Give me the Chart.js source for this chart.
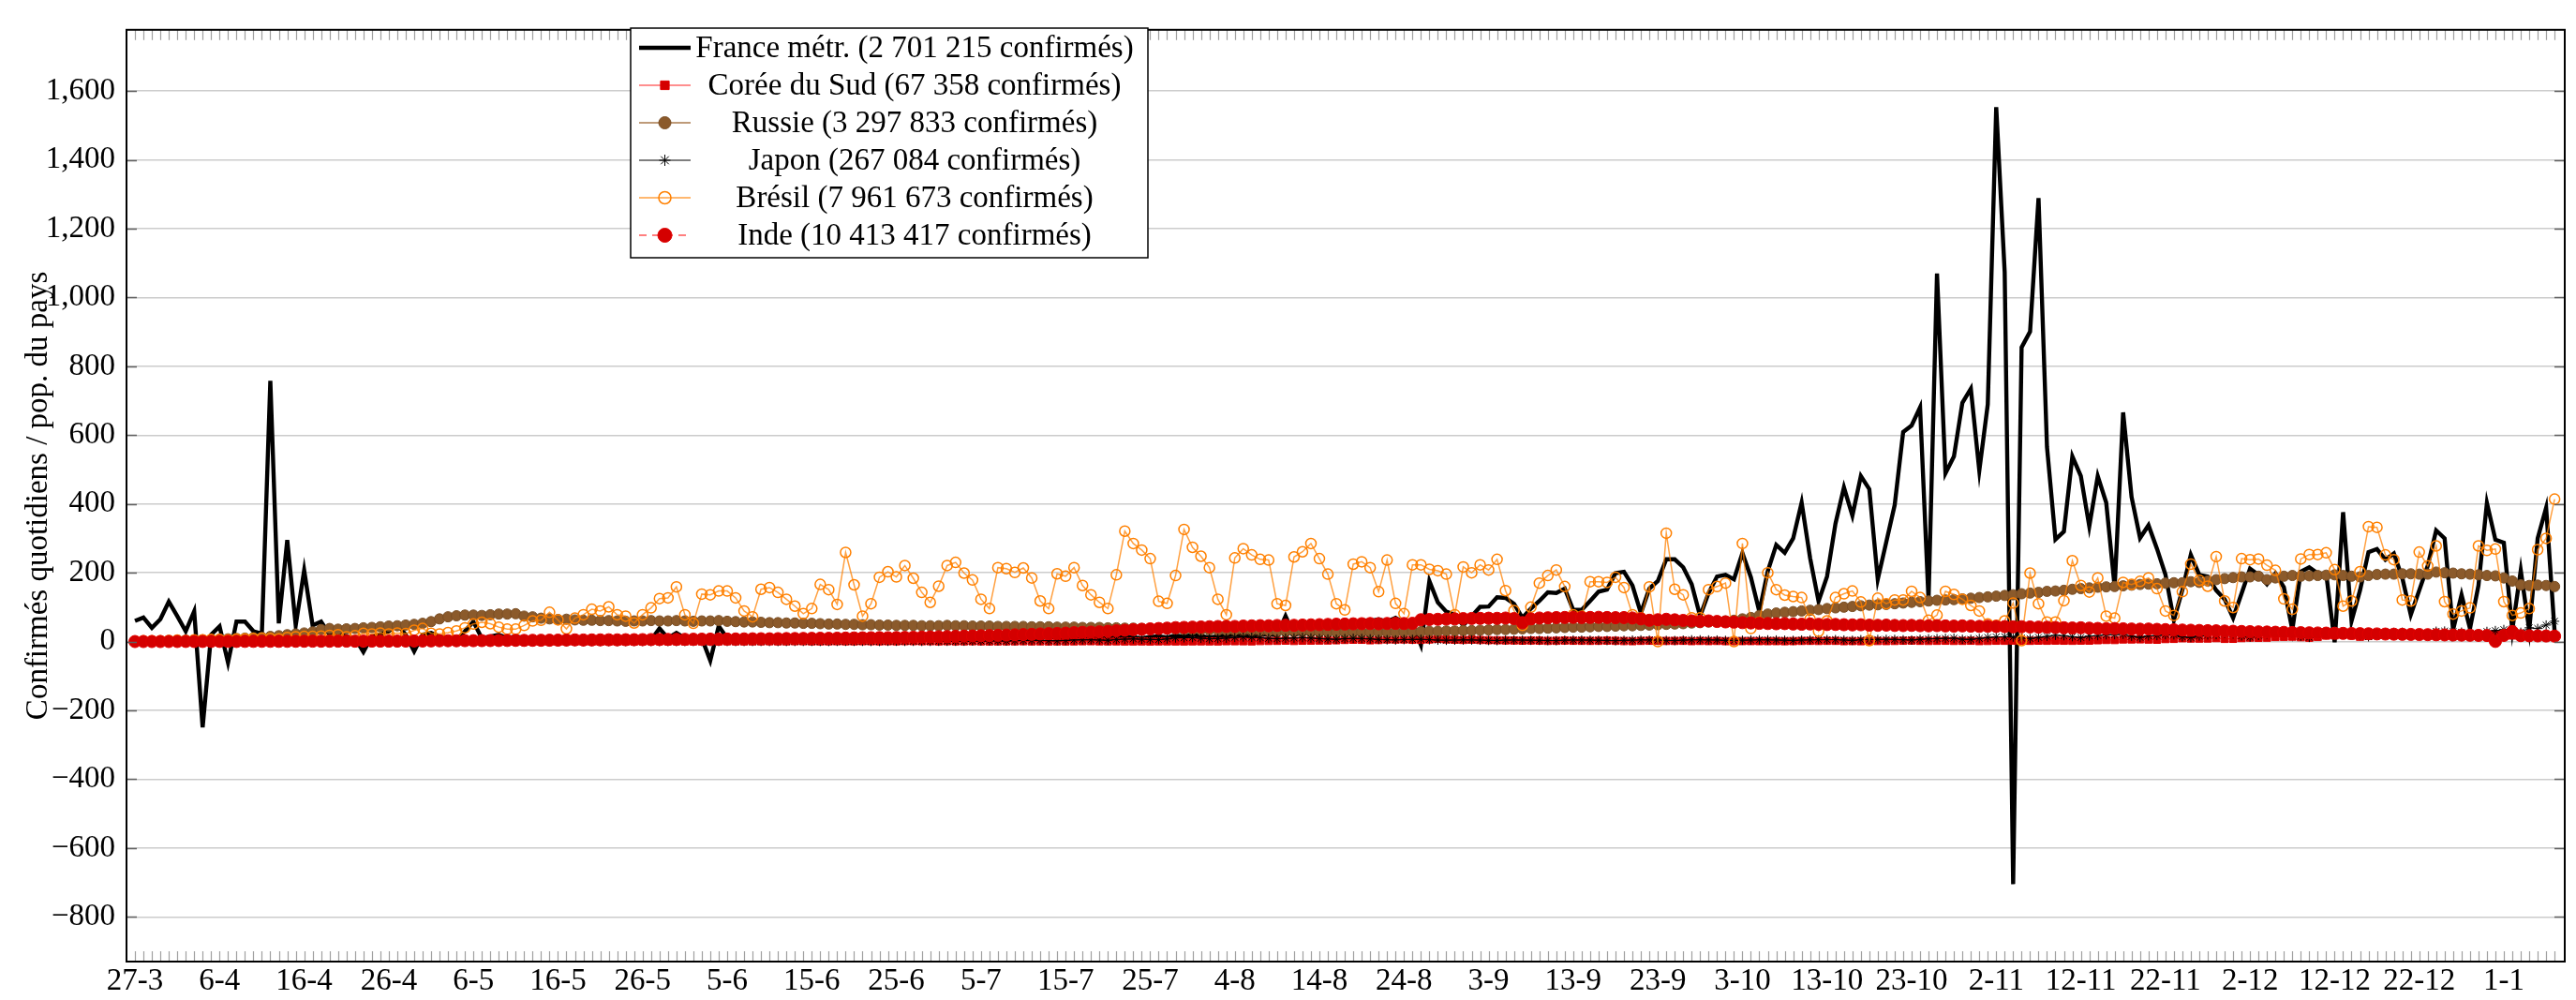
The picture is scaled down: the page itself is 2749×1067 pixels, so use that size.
<!DOCTYPE html>
<html>
<head>
<meta charset="utf-8">
<title>Confirmés quotidiens</title>
<script src="https://cdn.jsdelivr.net/npm/chart.js@4.4.1/dist/chart.umd.min.js"></script>
<style>
  html, body { margin: 0; padding: 0; background: #fff; }
  #cadre { width: 2749px; height: 1067px; }
</style>
</head>
<body>
<div id="cadre"><canvas id="graphe" width="2749" height="1067"></canvas></div>
<script>
// dates affichées sous l'axe (un repère tous les 10 jours à partir du 27-3)
var etiquettesX = ['27-3', '6-4', '16-4', '26-4', '6-5', '16-5', '26-5', '5-6', '15-6', '25-6',
  '5-7', '15-7', '25-7', '4-8', '14-8', '24-8', '3-9', '13-9', '23-9', '3-10',
  '13-10', '23-10', '2-11', '12-11', '22-11', '2-12', '12-12', '22-12', '1-1'];

var titreAxeY = 'Confirmés quotidiens / pop. du pays';

// confirmés quotidiens par million d'habitants, un point par jour depuis le 27-3
var franceMetr = [60, 70, 40, 65, 116, 74, 30, 88, -249, 20, 44, -61, 58, 58, 30, 23, 758, 53, 295, 47, 207, 47, 58,
  20, 25, 15, 10, -30, 15, 20, 30, 50, 20, -28, 20, 25, 15, 10, 5, 30, 58, 10, 15, 20, 10, 15, 10, 12,
  10, 8, 12, 10, 8, 6, 10, 8, 5, 6, 8, 5, 6, 5, 38, 10, 25, 10, 5, 10, -55, 45, 10,
  8, 6, 10, 7, 5, 8, 6, 10, 8, 7, 9, 6, 8, 10, 7, 5, 9, 8, 10, 6, 8, 9, 7, 10, 8, 6, 9, 11, 8,
  10, 12, 9, 11, 13, 10, 8, 12, 14, 11, 10, 13, 15, 12, 9, 11, 14, 16, 12, 10, 13, 15, 12, 18, 14, 20, 16, 12, 15, 18,
  20, 17, 14, 19, 22, 18, 74, 20, 25, 28, 22, 30, 35, 40, 45,
  62, 60, 65, 58, 69, 55, 50, -10,
  176, 114, 87, 78, 47, 74, 101, 102, 129, 127, 110, 69, 96, 118, 143, 141, 154, 92, 92, 118,
  145, 151, 199, 203, 163, 83, 154, 176, 239, 239, 216, 167, 74, 141, 189, 194, 181, 257, 187, 87,
  205, 281, 258, 300, 404, 243, 117, 189, 343, 448, 366, 481, 443, 181, 289, 397, 609, 628, 681, 120,
  1070, 489, 538, 694, 735, 497, 689, 1553, 1074, -705, 855, 901, 1289, 566, 297, 320, 538, 481, 335, 481,
  404, 158, 666, 420, 301, 338, 270, 195, 62, 150, 252,
  194, 189, 149, 123, 69, 140, 212, 194, 167, 198, 158, 34, 203, 216, 198, 198, -2, 376, 60, 149,
  260, 269, 238, 256, 185, 78, 149, 220, 323, 300, 34, 136, 38, 163, 403, 296, 287, 34, 207, 34,
  300, 389, 29];

var coreeDuSud = [1.8, 2.0, 1.7, 1.9, 1.7, 1.8, 0.9, 0.9, 1.3, 0.9, 0.6, 0.6, 0.5, 0.6, 0.5, 0.5, 0.5, 0.4, 0.4, 0.2, 0.2,
  0.2, 0.3, 0.2, 0.2, 0.2, 0.1, 0.2, 0.2, 0.2, 0.1, 0.1, 0.2, 0.1, 0.2, 0.1, 0.1, 0.1, 0.2, 0.2, 0.1,
  0.3, 0.7, 0.6, 0.5, 0.6, 0.4, 0.6, 0.3, 0.4, 0.3, 0.5, 0.6, 0.4, 0.5, 0.3, 0.4, 0.3, 0.3, 0.5, 0.8,
  1.5, 1.1, 0.8, 0.9, 0.6, 0.8, 0.7, 1.0, 0.7, 0.9, 0.7, 0.6, 0.8, 0.8, 0.9, 0.7, 0.7, 1.0, 0.9, 0.6,
  0.6, 0.8, 0.9, 0.8, 0.8, 1.0, 0.9, 0.7, 0.9, 0.8, 1.2, 1.2, 0.9, 1.0, 0.6, 0.9, 0.8, 0.8, 0.9, 0.7,
  0.5, 0.6, 0.7, 0.8, 0.9, 0.6, 0.8, 0.5, 0.6, 0.5, 0.7, 0.9, 1.1, 0.8, 0.6, 0.7, 0.4, 0.5, 0.6, 0.3,
  0.6, 0.7, 0.5, 0.4, 0.7, 0.8, 0.6, 0.5, 1.1, 1.0, 0.9, 0.7, 1.6, 1.9, 2.1, 2.8, 1.8, 2.5, 2.8, 3.0,
  3.2, 3.8, 4.8, 5.4, 5.2, 3.8, 4.6, 6.1, 5.9, 6.2, 5.2, 5.1, 6.2, 7.7, 6.3, 5.5, 4.8, 5.6, 4.6, 4.0,
  3.7, 3.4, 3.2, 2.6, 3.1, 2.9, 2.1, 2.3, 3.0, 2.4, 2.3, 2.1, 2.3, 2.9, 2.2, 1.6, 1.2, 2.1, 2.4, 2.2,
  1.9, 2.0, 2.2, 1.4, 1.9, 1.5, 1.9, 1.2, 1.1, 1.5, 1.5, 1.4, 1.3, 1.4, 1.0, 1.4, 1.9, 2.1, 1.8, 2.1,
  2.1, 1.2, 1.5, 1.1, 1.4, 1.7, 1.5, 1.9, 2.4, 2.9, 2.2, 1.9, 2.2, 2.4, 2.0, 2.1, 2.4, 1.5, 1.9, 2.4,
  2.3, 2.9, 2.8, 2.2, 2.7, 2.4, 2.9, 2.5, 2.3, 2.8, 2.8, 3.9, 4.7, 4.5, 6.2, 6.2, 6.4, 5.8, 5.3, 7.3,
  7.8, 9.6, 8.9, 8.7, 8.9, 10.0, 7.8, 8.0, 10.1, 11.5, 11.1, 11.4, 13.3, 13.8, 14.2, 12.7, 11.2, 13.7, 17.3, 18.1,
  20.0, 17.3, 14.0, 16.4, 19.9, 21.0, 20.9, 23.3, 20.9, 18.6, 17.4, 16.0, 20.0, 21.6, 22.2, 19.2, 16.5, 15.0, 21.4, 19.7,
  17.6, 13.6, 15.9, 16.4, 16.9, 13.5];

var russie = [1, 1, 2, 2, 3, 3, 4, 4, 5, 6, 7, 8, 9, 10, 11, 12,
  15, 17, 20, 22, 25, 28, 35, 38, 36, 37, 38, 40, 41, 43, 45, 46, 48, 50, 53, 58, 66, 72, 75, 77, 77, 76, 78, 80, 80, 81,
  74, 72, 68, 66, 64, 65, 63, 62, 62, 61, 61, 60, 59, 60, 60, 61, 60, 60, 61, 60, 59, 60, 60, 61, 59, 58, 57, 57, 56, 55,
  55, 54, 54, 53, 53, 52, 51, 51, 50, 50, 49, 49, 48, 48, 47, 47, 47, 46, 46, 46,
  47, 46, 46, 45, 45, 45, 44, 44, 44, 44, 43, 43, 43, 42, 42, 42, 41, 41, 41, 40, 40, 39, 39, 38, 38, 37, 37, 36, 35, 35,
  34, 34, 33, 33, 32, 32, 31, 30, 30, 30, 29, 29, 29, 28, 28, 28, 27, 27, 27, 27,
  27, 28, 28, 28, 29, 29, 29, 30, 30, 31, 31, 32, 32, 33, 34, 35, 35, 36, 37, 38, 38, 39, 40, 41, 42, 42, 43, 44, 44, 45,
  46, 46, 47, 48, 49, 50, 51, 52, 54, 55, 57, 58, 60, 62, 66, 70, 76, 80, 83, 85,
  87, 89, 91, 93, 96, 98, 100, 102, 104, 106, 107, 108, 110, 112, 114, 116, 118, 120, 121, 122,
  124, 126, 128, 130, 132, 134, 136, 139, 141, 143, 146, 147, 149, 152, 154, 156, 158, 159, 160, 162,
  164, 166, 167, 168, 170, 171, 171, 174, 172, 176,
  180, 183, 186, 188, 188, 190, 180, 185, 190, 192, 190, 191, 192, 193, 194, 192, 190, 188, 192, 195,
  196, 196, 197, 197, 196, 196, 202, 200, 199, 197, 196, 194, 192, 191, 185, 176, 165, 163, 164, 163, 160];

var japon = [0.8, 0.6, 1.6, 1.9, 1.0, 2.3, 2.6, 1.6, 2.0, 3.4, 3.9, 4.4, 3.0, 2.5, 3.5, 4.0, 4.7, 4.6, 4.0, 4.4, 2.9,
  2.8, 3.0, 3.4, 3.8, 2.3, 1.8, 2.3, 2.1, 1.8, 1.6, 1.3, 1.1, 1.4, 0.9, 0.6, 0.7, 0.9, 0.9, 0.7, 0.6,
  0.5, 0.6, 0.4, 0.3, 0.3, 0.2, 0.3, 0.2, 0.1, 0.2, 0.2, 0.3, 0.2, 0.1, 0.2, 0.3, 0.3, 0.2, 0.3, 0.3,
  0.4, 0.3, 0.4, 0.2, 0.3, 0.4, 0.3, 0.3, 0.4, 0.5, 0.3, 0.4, 0.5, 0.6, 0.4, 0.3, 0.5, 0.6, 0.7, 0.7,
  0.5, 0.4, 0.8, 0.9, 0.8, 0.9, 0.6, 0.5, 0.9, 1.0, 0.8, 0.9, 0.7, 0.8, 1.0,
  1.0, 1.1, 1.2, 1.5, 1.8, 2.0, 2.2, 1.7, 2.5, 3.2, 3.3, 3.5, 2.6, 2.3, 3.1, 4.6, 5.0, 5.1, 4.4, 3.6,
  5.9, 7.0, 7.6, 6.8, 6.3, 5.5, 7.5, 10.5, 11.0, 11.5, 9.6, 8.0, 8.8, 10.0, 12.0,
  13.2, 12.3, 11.5, 9.3, 8.1, 9.7, 10.3, 11.6, 10.2, 8.7, 7.4, 6.6, 8.4, 9.2, 8.7, 7.6, 6.2, 5.3, 4.7, 5.8,
  6.2, 6.4, 5.4, 4.2, 3.9, 4.3, 4.8, 4.6, 4.1, 3.4,
  3.0, 4.1, 4.5, 4.3, 3.9, 3.6, 3.1, 2.8, 4.0, 4.5, 4.4, 4.2, 3.8, 3.2, 2.6, 3.7, 4.3, 4.9, 4.6, 4.4,
  3.4, 3.0, 4.2, 5.1, 5.0, 4.7, 4.5, 3.4, 3.2, 4.0, 4.5, 5.0, 4.9, 4.6, 3.9, 3.4, 4.5, 4.9, 5.3, 5.5,
  5.6, 4.5, 3.6, 5.3, 5.9,
  6.1, 6.4, 6.3, 5.2, 4.5, 6.6, 7.8, 8.6, 9.3, 10.0, 6.6, 6.4, 9.0, 12.0, 13.4, 14.0, 13.0, 10.2, 8.8, 12.1,
  15.1, 18.3, 17.1, 14.2, 11.6, 16.0, 17.4, 19.9, 20.2, 21.1, 15.5, 12.0, 16.6, 17.5, 20.3,
  19.7, 13.6, 11.7, 16.2, 19.3, 20.4, 24.0, 22.3, 16.6, 13.0, 18.0, 22.0, 23.4, 24.5, 23.0, 15.6, 12.1, 24.2, 24.4, 24.0,
  25.5, 23.5, 17.5, 14.0, 23.8, 25.2, 26.4, 27.0, 24.2, 17.8, 18.5, 30.0, 30.5, 29.0, 27.3,
  25.0, 20.0, 29.5, 32.0, 35.0, 36.5, 27.0, 40.0, 38.0, 48.0, 59.0];

var bresil = [1, 2, 2, 2, 3, 4, 3, 5, 5, 6, 6, 5, 7, 8, 9, 10, 9, 8, 12, 14, 15, 15, 16,
  18, 20, 14, 17, 24, 22, 25, 22, 25, 23, 33, 38, 24, 22, 26, 31, 40, 51, 56, 52, 42, 36, 36, 47,
  60, 62, 85, 63, 37, 68, 78, 94, 89, 101, 78, 74, 54, 78, 98, 125, 127, 159, 78, 53,
  138, 136, 147, 147, 127, 89, 72, 152, 157, 143, 123, 103, 81, 96, 166, 151, 108, 259, 165, 74,
  110, 187, 203, 188, 221, 184, 143, 114, 161, 221, 230,
  199, 179, 123, 96, 215, 212, 201, 214, 185, 118, 96, 197, 190, 215, 163, 136, 114, 96, 194, 321,
  285, 266, 241, 117, 111, 192, 326, 274, 248, 215, 123, 78, 243, 270, 252, 239, 237, 110, 105, 246,
  261, 285, 241, 196, 110, 92, 225, 232, 215,
  145, 237, 111, 81, 223, 223, 210, 206, 196, 78, 217, 200, 223, 208, 239, 148, 90, 47, 100, 170,
  192, 208, 160, 78, 74, 174, 174, 172, 187, 157, 78, 69, 159, 0, 315, 152, 136, 69, 69, 151,
  160, 170, 0, 285, 38, 56,
  200, 151, 135, 131, 128, 65, 30, 60, 128, 139, 147, 115, 3, 126, 110, 121, 121, 146, 128, 62,
  77, 146, 137, 123, 105, 89, 51, 47, 60, 112, 3, 199, 110, 57, 57, 119, 235, 163, 144, 185,
  74, 68, 172, 166, 175,
  185, 154, 89, 76, 145, 225, 178, 161, 247, 118, 99, 241, 238, 240, 222, 207, 124, 94, 240, 253,
  253, 258, 209, 103, 118, 203, 334, 332, 252, 238, 121, 118, 260, 220, 278, 116, 80, 89, 98, 278,
  265, 269, 116, 76, 83, 96, 267, 300, 414];

var inde = [0.1, 0.1, 0.1, 0.1, 0.2, 0.3, 0.4, 0.3, 0.4, 0.5, 0.5, 0.6, 0.4, 0.6, 0.7, 0.8, 0.8, 0.7, 0.8, 0.9,
  1.0, 1.2, 1.1, 1.0, 1.2, 1.3, 1.1, 1.2, 1.4, 1.3, 1.2, 1.4, 1.5, 1.8, 1.7,
  2.0, 2.3, 2.5, 2.4, 2.7, 2.6, 2.8, 3.0, 3.1, 3.3, 3.6, 3.5, 3.7, 3.9, 4.0, 4.2, 4.5, 4.9, 4.6, 4.8,
  5.0, 5.2, 5.0, 5.4, 5.5, 5.7, 5.9, 6.0, 6.2, 6.4, 6.5,
  6.8, 7.0, 7.2, 7.1, 7.4, 7.6, 7.8, 8.1, 8.3, 8.1, 8.5, 8.8, 8.9, 9.2, 9.4, 9.7, 9.5, 9.9, 10.2, 10.6,
  10.9, 11.2, 11.5, 11.3, 11.8, 12.2, 12.6, 13.1, 13.5, 14.0,
  14.5, 15.2, 15.8, 16.3, 17.0, 17.5, 18.2, 18.9, 19.5, 20.3, 21.0, 22.1, 23.0, 23.6, 24.5, 25.8, 26.9, 27.5, 28.4, 29.9,
  31.5, 33.0, 34.6, 35.8, 36.9, 38.0, 39.1, 40.5, 41.2, 42.0,
  42.5, 43.1, 43.8, 44.2, 44.0, 45.1, 45.6, 46.2, 46.0, 46.8, 47.5, 47.2, 48.0, 48.6, 49.2, 49.8, 50.5, 51.0, 51.6, 52.0,
  52.4, 51.8, 52.6, 53.0, 52.5, 53.1,
  63.5, 64.2, 64.8, 65.5, 66.0, 66.8, 67.2, 67.5, 68.0, 67.6, 68.4, 66.9, 55.0, 66.0, 68.5, 69.2, 69.8, 70.1, 70.5, 69.9,
  70.2, 70.6, 70.0, 69.5, 69.8,
  68.5, 66.0, 62.0, 63.5, 64.8, 63.2, 61.5, 60.2, 59.0, 60.1, 58.5, 57.2, 56.5, 55.0, 54.2, 53.0,
  52.5, 51.8, 52.2, 51.0, 50.4, 51.1, 50.2, 49.5, 49.8, 49.0, 48.5, 48.9, 47.6, 47.2, 47.8, 46.9, 46.5, 47.0, 46.2, 45.8,
  46.3, 45.5, 45.0, 45.6, 44.8, 44.2, 44.6, 43.9,
  43.5, 42.8, 43.2, 42.5, 42.0, 41.6, 41.0, 40.2, 39.5, 40.1, 39.0, 38.2, 37.5, 38.0, 37.2, 36.5, 36.0, 36.4, 35.5, 34.8,
  34.2, 33.5, 33.0, 32.4, 31.8, 31.2, 30.6, 30.0, 29.4, 28.8,
  28.3, 27.8, 27.2, 26.8, 26.3, 25.9, 25.5, 25.0, 24.6, 24.2, 23.8, 23.4, 23.0, 22.7, 22.3, 21.9, 21.5, 21.1, 20.8, 20.5,
  20.1, 19.8, 19.4, 19.1, 18.8, 18.4, 18.0, 17.6, 0.5, 18.0, 29.0, 17.2, 16.9, 16.5, 16.2, 15.8];

// numéro du jour (0 = 27-3) pour l'axe linéaire
var jours = franceMetr.map(function (v, i) { return i; });

function formatNombre(v) {
  var s = Math.abs(v).toLocaleString('en-US');
  return v < 0 ? '\u2212' + s : s;
}

var police = '"Liberation Serif", "DejaVu Serif", serif';
Chart.defaults.font.family = police;
Chart.defaults.font.size = 33;
Chart.defaults.color = '#000';

// cadre noir + petites graduations tournées vers l'intérieur
var cadrePlugin = {
  id: 'cadrePlugin',
  afterDatasetsDraw: function (chart) {
    var ctx = chart.ctx, a = chart.chartArea, x = chart.scales.x, y = chart.scales.y;
    ctx.save();
    ctx.strokeStyle = '#a0a0a0';
    ctx.lineWidth = 1.2;
    ctx.beginPath();
    for (var i = 0; i < jours.length; i++) {
      var px = Math.round(x.getPixelForValue(jours[i])) + 0.5;
      ctx.moveTo(px, a.bottom); ctx.lineTo(px, a.bottom - 11);
      ctx.moveTo(px, a.top); ctx.lineTo(px, a.top + 11);
    }
    ctx.stroke();
    ctx.strokeStyle = '#606060';
    ctx.lineWidth = 1.5;
    ctx.beginPath();
    y.ticks.forEach(function (t) {
      var py = Math.round(y.getPixelForValue(t.value)) + 0.5;
      ctx.moveTo(a.left, py); ctx.lineTo(a.left + 11, py);
      ctx.moveTo(a.right, py); ctx.lineTo(a.right - 11, py);
    });
    ctx.stroke();
    ctx.strokeStyle = '#000';
    ctx.lineWidth = 2;
    ctx.strokeRect(a.left, a.top, a.right - a.left, a.bottom - a.top);
    ctx.restore();
  }
};

// légende encadrée à l'intérieur du graphique, façon pgfplots
var legendePlugin = {
  id: 'legendePlugin',
  afterDraw: function (chart) {
    var ctx = chart.ctx;
    var bx = 673, by = 30, bw = 552, bh = 245;
    var pas = 40, y0 = 51;
    ctx.save();
    ctx.fillStyle = '#fff';
    ctx.fillRect(bx, by, bw, bh);
    ctx.strokeStyle = '#000';
    ctx.lineWidth = 1.5;
    ctx.strokeRect(bx, by, bw, bh);
    chart.data.datasets.forEach(function (ds, i) {
      var yy = y0 + i * pas;
      ctx.save();
      ctx.strokeStyle = ds.borderColor;
      ctx.lineWidth = ds.borderWidth;
      ctx.setLineDash(ds.borderDash || []);
      ctx.beginPath();
      ctx.moveTo(bx + 9, yy);
      ctx.lineTo(bx + 64, yy);
      ctx.stroke();
      ctx.setLineDash([]);
      if (ds.pointRadius > 0) {
        ctx.fillStyle = ds.pointBackgroundColor || 'rgba(0,0,0,0)';
        ctx.strokeStyle = ds.pointBorderColor;
        ctx.lineWidth = ds.pointBorderWidth || 1;
        Chart.helpers.drawPoint(ctx, {
          pointStyle: ds.pointStyle, radius: ds.pointRadius + 1, rotation: 0,
          borderWidth: ds.pointBorderWidth || 1
        }, bx + 36.5, yy);
      }
      ctx.restore();
      ctx.fillStyle = '#000';
      ctx.font = '33px ' + police;
      ctx.textAlign = 'center';
      ctx.textBaseline = 'middle';
      ctx.fillText(ds.label, 976, yy + 1);
    });
    ctx.restore();
  }
};

new Chart(document.getElementById('graphe'), {
  type: 'line',
  data: {
    labels: jours,
    datasets: [
      { label: 'France métr. (2 701 215 confirmés)', data: franceMetr, borderColor: '#000', borderWidth: 4.4,
        pointRadius: 0, order: 6 },
      { label: 'Corée du Sud (67 358 confirmés)', data: coreeDuSud, borderColor: '#ff2020', borderWidth: 1.2,
        pointStyle: 'rect', pointRadius: 5.5, pointBackgroundColor: '#d40000', pointBorderColor: '#e00000',
        pointBorderWidth: 1, order: 5 },
      { label: 'Russie (3 297 833 confirmés)', data: russie, borderColor: '#a87a4c', borderWidth: 1.5,
        pointStyle: 'circle', pointRadius: 5.5, pointBackgroundColor: '#8b5a2b', pointBorderColor: '#7a4e24',
        pointBorderWidth: 1, order: 4 },
      { label: 'Japon (267 084 confirmés)', data: japon, borderColor: '#000', borderWidth: 1,
        pointStyle: 'star', pointRadius: 5, pointBackgroundColor: '#000', pointBorderColor: '#000',
        pointBorderWidth: 1, order: 3 },
      { label: 'Brésil (7 961 673 confirmés)', data: bresil, borderColor: 'rgba(255,128,0,0.75)', borderWidth: 1.5,
        pointStyle: 'circle', pointRadius: 5.5, pointBackgroundColor: 'rgba(255,255,255,0)', pointBorderColor: '#ff8000',
        pointBorderWidth: 1.5, order: 2 },
      { label: 'Inde (10 413 417 confirmés)', data: inde, borderColor: '#ff0000', borderWidth: 1.2, borderDash: [8, 6],
        pointStyle: 'circle', pointRadius: 6.5, pointBackgroundColor: '#d40000', pointBorderColor: '#e00000',
        pointBorderWidth: 1, order: 1 }
    ]
  },
  options: {
    responsive: false,
    animation: false,
    devicePixelRatio: 1,
    events: [],
    elements: { line: { tension: 0 } },
    layout: { padding: { top: 10, right: 12, left: 0, bottom: 0 } },
    plugins: { legend: { display: false }, tooltip: { enabled: false } },
    scales: {
      x: {
        type: 'linear',
        min: -1.0,
        max: 287.2,
        afterBuildTicks: function (s) {
          s.ticks = etiquettesX.map(function (e, i) { return { value: i * 10 }; });
        },
        afterFit: function (s) { s.height = 41; },
        ticks: {
          autoSkip: false, maxRotation: 0, padding: -6,
          callback: function (v) { return etiquettesX[Math.round(v / 10)]; }
        },
        grid: { display: false },
        border: { display: false }
      },
      y: {
        min: -930,
        max: 1778,
        afterFit: function (s) { s.width = 135; },
        ticks: { stepSize: 200, includeBounds: false, padding: 12, callback: formatNombre },
        grid: { color: '#cccccc', lineWidth: 1.5, drawTicks: false },
        border: { display: false },
        title: { display: true, text: titreAxeY, padding: { top: 22, bottom: 0 } }
      }
    }
  },
  plugins: [cadrePlugin, legendePlugin]
});
</script>
</body>
</html>
